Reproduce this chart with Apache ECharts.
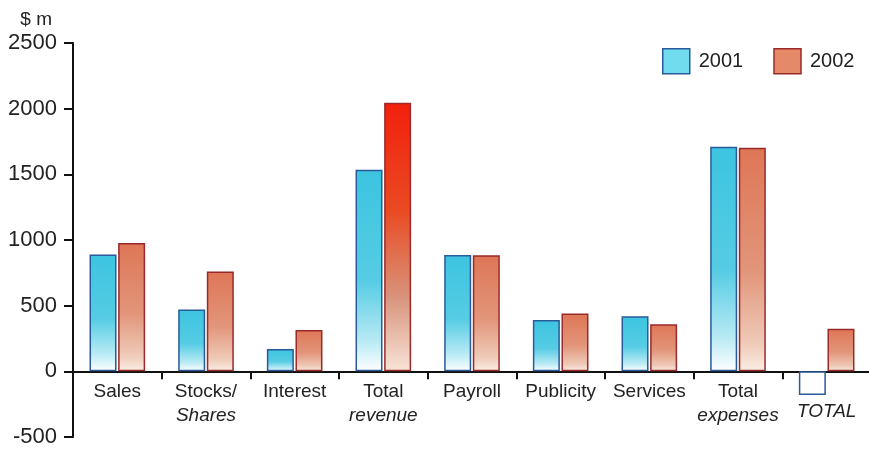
<!DOCTYPE html>
<html><head><meta charset="utf-8">
<script src="https://cdn.jsdelivr.net/npm/echarts@6/dist/echarts.min.js"></script>
<style>html,body{margin:0;padding:0;background:#fff}#c{width:869px;height:449px}</style>
</head><body><div id="c"></div>
<script>
var categories = ['Sales', 'Stocks/\nShares', 'Interest', 'Total\nrevenue', 'Payroll', 'Publicity', 'Services', 'Total\nexpenses', 'TOTAL'];
var values2001 = [890, 470, 170, 1535, 885, 390, 420, 1710, -180];
var values2002 = [978, 760, 315, 2045, 883, 440, 358, 1703, 325];
var yTicks = [-500, 0, 500, 1000, 1500, 2000, 2500];

var F = 'Liberation Sans, Arial, sans-serif';
function grad(stops) {
  return new echarts.graphic.LinearGradient(0, 0, 0, 1, stops.map(function (s) { return { offset: s[0], color: s[1] }; }));
}
var blueGrad = grad([[0, '#3cc4e0'], [0.55, '#56cce4'], [0.85, '#b8eaf4'], [1, '#ffffff']]);
var redGrad = grad([[0, '#de7656'], [0.55, '#e2957a'], [0.88, '#efcbb8'], [1, '#fbeee6']]);
var brightRed = grad([[0, '#f2200e'], [0.4, '#ea4a22'], [0.72, '#d8927a'], [1, '#f8e4d8']]);

var data2001 = values2001.map(function (v) {
  return v < 0 ? { value: v, itemStyle: { color: '#ffffff' } } : v;
});
var data2002 = values2002.map(function (v, i) {
  return i === 3 ? { value: v, itemStyle: { color: brightRed } } : v;
});

var chart = echarts.init(document.getElementById('c'), null, { renderer: 'canvas' });
chart.setOption({
  animation: false,
  backgroundColor: '#ffffff',
  grid: { left: 73, right: -2, top: 43, bottom: 12, containLabel: false, outerBoundsMode: 'none' },
  legend: {
    left: 657, top: 43, icon: 'rect', itemWidth: 27, itemHeight: 25, itemGap: 30,
    textStyle: { fontFamily: F, fontSize: 20, color: '#222', padding: [0, 0, 0, 4] },
    data: [
      { name: '2001', itemStyle: { color: '#70dcee', borderColor: '#2a5a9a', borderWidth: 1.5 } },
      { name: '2002', itemStyle: { color: '#e48a68', borderColor: '#9a2a2a', borderWidth: 1.5 } }
    ]
  },
  xAxis: {
    type: 'category', data: categories,
    axisLine: { onZero: true, lineStyle: { color: '#111', width: 2 } },
    axisTick: { show: true, length: 8, lineStyle: { color: '#111', width: 2 } },
    axisLabel: {
      margin: -57, interval: 0,
      formatter: function (val) {
        if (val === 'TOTAL') return '{t|TOTAL}';
        var parts = val.split('\n');
        if (parts.length > 1) return '{n|' + parts[0] + '}\n{i|' + parts[1] + '}';
        return '{n|' + val + '}';
      },
      rich: {
        n: { fontFamily: F, fontSize: 19, color: '#222', lineHeight: 24 },
        i: { fontFamily: F, fontSize: 19, color: '#222', fontStyle: 'italic', lineHeight: 24 },
        t: { fontFamily: F, fontSize: 19, color: '#222', fontStyle: 'italic', lineHeight: 24, padding: [40, 0, 0, 0] }
      }
    }
  },
  yAxis: {
    type: 'value', min: yTicks[0], max: yTicks[yTicks.length - 1], interval: 500,
    name: '$ m', nameLocation: 'end', nameGap: 14,
    nameTextStyle: { fontFamily: F, fontSize: 19, color: '#222', align: 'right', padding: [0, 21, 0, 0] },
    axisLine: { show: true, lineStyle: { color: '#111', width: 2 } },
    axisTick: { show: true, length: 9, lineStyle: { color: '#111', width: 2 } },
    axisLabel: { fontFamily: F, fontSize: 22, color: '#222', margin: 16, formatter: function (v) { return String(v); } },
    splitLine: { show: false }
  },
  series: [
    {
      name: '2001', type: 'bar', data: data2001, barWidth: 27, barGap: '6%',
      itemStyle: { color: blueGrad, borderColor: '#2a5a9a', borderWidth: 1.5 }
    },
    {
      name: '2002', type: 'bar', data: data2002, barWidth: 27,
      itemStyle: { color: redGrad, borderColor: '#9a2a2a', borderWidth: 1.5 }
    }
  ]
});
</script></body></html>
